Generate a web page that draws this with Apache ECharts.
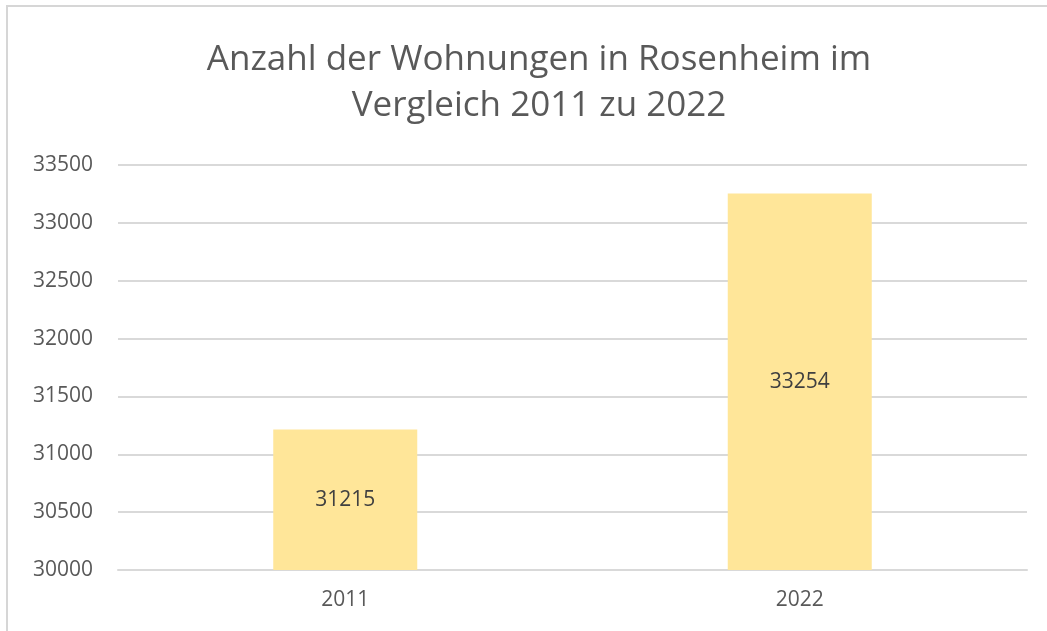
<!DOCTYPE html>
<html>
<head>
<meta charset="utf-8">
<script src="https://cdn.jsdelivr.net/npm/echarts@6/dist/echarts.min.js"></script>
<style>
  html, body { margin: 0; padding: 0; background: #fff; }
  #chart { width: 1047px; height: 631px; position: relative; }
  .frame {
    position: absolute; left: 6px; top: 5px; right: 0; bottom: 0;
    border-top: 2px solid #d6d6d6; border-left: 2px solid #d6d6d6;
    pointer-events: none;
  }
</style>
</head>
<body>
<div id="chart"></div>
<div class="frame"></div>
<script>
const years = ["2011", "2022"];
const wohnungen = [31215, 33254];
const yMin = 30000;
const yMax = 33500;
const yStep = 500;

const chart = echarts.init(document.getElementById("chart"));

const option = {
  animation: false,
  title: {
    text: "Anzahl der Wohnungen in Rosenheim im\nVergleich 2011 zu 2022",
    left: 534,
    textAlign: "center",
    top: 32,
    textStyle: {
      fontFamily: "Open Sans",
      fontWeight: "normal",
      fontSize: 35,
      lineHeight: 46,
      color: "#595959",
    },
  },
  grid: {
    left: 118,
    right: 20,
    top: 165,
    bottom: 61,
  },
  xAxis: {
    type: "category",
    data: years,
    axisTick: { show: false },
    axisLine: { lineStyle: { color: "#d9d9d9", width: 2 } },
    axisLabel: {
      fontFamily: "Open Sans",
      fontSize: 21,
      color: "#595959",
      margin: 20,
    },
  },
  yAxis: {
    type: "value",
    min: yMin,
    max: yMax,
    interval: yStep,
    axisLine: { show: false },
    axisTick: { show: false },
    axisLabel: {
      fontFamily: "Open Sans",
      fontSize: 21,
      color: "#595959",
      margin: 25,
      formatter: (v) => String(v),
    },
    splitLine: { lineStyle: { color: "#d9d9d9", width: 2 } },
  },
  series: [
    {
      type: "bar",
      data: wohnungen,
      barWidth: 144,
      itemStyle: { color: "#ffe699" },
      label: {
        show: true,
        position: "inside",
        fontFamily: "Open Sans",
        fontSize: 21,
        color: "#404040",
      },
    },
  ],
};

chart.setOption(option);
</script>
</body>
</html>
